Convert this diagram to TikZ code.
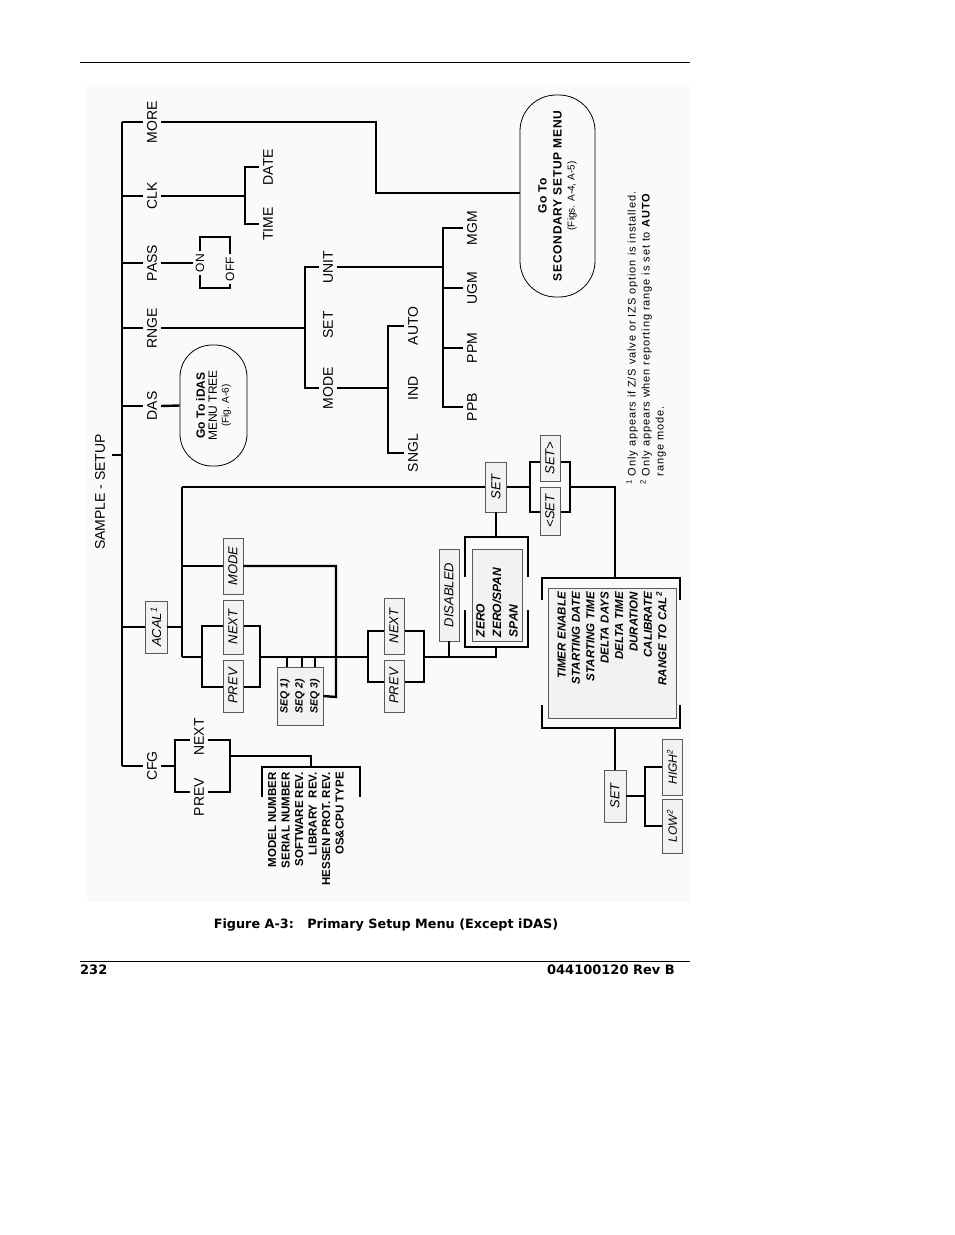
\documentclass[tikz,border=0pt]{standalone}
\usepackage{fontspec}
\setmainfont{Liberation Sans}
\newfontfamily\vfont{DejaVu Sans}
\newfontfamily\spfont[LetterSpace=6]{Liberation Sans}
\newfontfamily\ntfont[LetterSpace=8]{Liberation Sans}
\begin{document}
\begin{tikzpicture}[x=1pt,y=-1pt,
  thk/.style={line width=2.4pt},
  thn/.style={line width=1.3pt},
  lb/.style={rotate=90, inner sep=4pt, font=\fontsize{14}{16}\selectfont},
  sm/.style={rotate=90, inner sep=3pt, font=\fontsize{12}{13}\selectfont},
  bx/.style={rotate=90, draw=black!65, fill=black!5, line width=0.8pt, inner sep=0pt, font=\itshape\fontsize{13}{15}\selectfont},
  oval/.style={rotate=90, draw, line width=0.8pt, align=center, inner sep=0pt}]
\useasboundingbox (0,0) rectangle (954,1235);
\fill[white] (0,0) rectangle (954,1235);
\fill[black!2] (87,85) rectangle (690,902);
% page rules and captions
\draw[line width=1pt] (80,62) -- (690,62);
\draw[line width=1pt] (80,961) -- (690,961);
\node[font=\vfont\bfseries\fontsize{12.8}{14}\selectfont] (cap) at (386,925) {Figure A-3:\ \ \ Primary Setup Menu (Except iDAS)};
\node[anchor=west, inner sep=0, font=\vfont\bfseries\fontsize{13}{14}\selectfont] (pg) at (80,970) {232};
\node[anchor=east, inner sep=0, font=\vfont\bfseries\fontsize{13}{14}\selectfont] (rev) at (675,970) {044100120 Rev B};

% spine
\node[lb] (sample) at (100,492) {SAMPLE - SETUP};
\draw[thk] (122,122) -- (122,766);
\draw[thk] (112,455) -- (122,455);

% MORE
\node[lb] (more) at (152,122) {MORE};
\node[oval, minimum width=202, minimum height=75, rounded corners=36pt] (sec) at (557.5,196)
  {{\spfont\bfseries\fontsize{12}{14}\selectfont Go To}\\[3pt]{\spfont\bfseries\fontsize{12}{14}\selectfont SECONDARY SETUP MENU}\\[1pt]{\fontsize{10}{12}\selectfont (Figs. A-4, A-5)}};
\draw[thk] (122,122) -- (more.north);
\draw[thk] (more.south) -- (376,122) -- (376,193) -- (sec.north |- 0,193);

% CLK
\node[lb] (clk) at (152,196) {CLK};
\node[lb] (date) at (268,167) {DATE};
\node[lb] (time) at (268,224) {TIME};
\draw[thk] (122,196) -- (clk.north);
\draw[thk] (clk.south) -- (245,196);
\draw[thk] (date.north) -| (245,196) |- (time.north);

% PASS
\node[lb] (pass) at (152,263) {PASS};
\node[sm] (on) at (200,263) {ON};
\node[sm] (off) at (230,269) {OFF};
\draw[thk] (122,263) -- (pass.north);
\draw[thk] (pass.south) -- (on.north);
\draw[thk] (on.east) -- (200,237) -- (230,237) -- (off.east);
\draw[thk] (on.west) -- (200,288) -- (230,288) -- (off.west);

% RNGE
\node[lb] (rnge) at (152,328) {RNGE};
\node[lb] (unit) at (328,267) {UNIT};
\node[lb] (set) at (328,325) {SET};
\node[lb] (mode) at (328,388) {MODE};
\draw[thn] (122,328) -- (rnge.north);
\draw[thn] (rnge.south) -- (305,328);
\draw[thk] (unit.north) -| (305,328) |- (mode.north);
\node[lb] (mgm) at (472,228) {MGM};
\node[lb] (ugm) at (472,288) {UGM};
\node[lb] (ppm) at (472,348) {PPM};
\node[lb] (ppb) at (472,407) {PPB};
\draw[thn] (unit.south) -- (443,267);
\draw[thk] (mgm.north) -| (443,267) |- (ppb.north);
\draw[thk] (443,288) -- (ugm.north);
\draw[thk] (443,348) -- (ppm.north);
\node[lb] (auto) at (413,326) {AUTO};
\node[lb] (ind) at (413,388) {IND};
\node[lb] (sngl) at (413,453) {SNGL};
\draw[thk] (mode.south) -- (388,388);
\draw[thk] (auto.north) -| (388,388) |- (sngl.north);

% DAS
\node[lb] (das) at (152,406) {DAS};
\node[oval, minimum width=121, minimum height=67, rounded corners=32pt] (idas) at (213.5,405.5)
  {{\bfseries\fontsize{12}{13.5}\selectfont Go To iDAS}\\{\fontsize{12}{13.5}\selectfont MENU TREE}\\{\fontsize{10}{12}\selectfont (Fig. A-6)}};
\draw[thk] (122,406) -- (das.north);
\draw[thk] (das.south) -- (idas.north);

% ACAL
\node[bx, minimum width=52, minimum height=22] (acal) at (156,627) {ACAL\textsuperscript{1}};
\draw[thk] (122,627) -- (acal.north);
\draw[thk] (acal.south) -- (182,627);
\draw[thk] (182,487) -- (182,657);
\node[bx, minimum width=50, minimum height=21] (set1) at (496,487) {SET};
\draw[thk] (182,487) -- (set1.north);
\draw[thn] (set1.south) -- (530,487);
\draw[thk] (530,462) rectangle (570,512);
\node[bx, minimum width=46, minimum height=20] (setr) at (550,458) {SET>};
\node[bx, minimum width=48, minimum height=20] (setl) at (550,511) {<SET};
\draw[thk] (570,487) -| (615,578);
% timer list
\draw[thk] (542,600) -- (542,578) -- (680,578) -- (680,600);
\draw[thk] (542,705) -- (542,728) -- (680,728) -- (680,705);
\node[bx, minimum width=130, minimum height=128, text width=122, align=right,
  font=\bfseries\itshape\fontsize{11.5}{14.4}\selectfont] (timer) at (612,653)
  {TIMER ENABLE\\STARTING DATE\\STARTING TIME\\DELTA DAYS\\DELTA TIME\\DURATION\\CALIBRATE\\RANGE TO CAL\textsuperscript{2}};
\node[bx, minimum width=52, minimum height=22] (set2) at (615,796) {SET};
\draw[thk] (615,728) -- (set2.east);
\node[bx, minimum width=56, minimum height=20, font=\itshape\fontsize{12}{14}\selectfont] (high) at (672,767) {HIGH\textsuperscript{2}};
\node[bx, minimum width=54, minimum height=20, font=\itshape\fontsize{12}{14}\selectfont] (low) at (672,826) {LOW\textsuperscript{2}};
\draw[thk] (set2.south) -- (645,796);
\draw[thk] (high.north) -| (645,796) |- (low.north);

% ZERO / SPAN
\draw[thk] (set1.west) -- (496,537);
\draw[thk] (465,577) -- (465,537) -- (528,537) -- (528,577);
\draw[thk] (465,610) -- (465,647) -- (528,647) -- (528,610);
\node[bx, minimum width=92, minimum height=50, text width=84, align=left,
  font=\bfseries\itshape\fontsize{12}{16.5}\selectfont] (zero) at (497,595) {ZERO\\ZERO/SPAN\\SPAN};
\node[bx, minimum width=92, minimum height=20] (dis) at (449,595) {DISABLED};
\draw[thn] (dis.west) -- (449,657);

% PREV / NEXT brackets
\draw[thk] (202,626) rectangle (260,687);
\node[bx, minimum width=54, minimum height=20] (next1) at (233,627) {NEXT};
\node[bx, minimum width=52, minimum height=20] (prev1) at (233,686) {PREV};
\draw[thk] (182,657) -- (202,657);
\draw[thk] (260,657) -- (368,657);
\draw[thk] (368,631) rectangle (424,682);
\node[bx, minimum width=56, minimum height=20] (next2) at (394,626) {NEXT};
\node[bx, minimum width=52, minimum height=20] (prev2) at (394,686) {PREV};
\draw[thk] (424,657) -- (496,657) -- (496,647);

% MODE box and SEQ
\node[bx, minimum width=56, minimum height=20] (mode1) at (233,566) {MODE};
\draw[thn] (182,566) -- (mode1.north);
\node[bx, minimum width=58, minimum height=46, align=left,
  font=\bfseries\itshape\fontsize{10.5}{15}\selectfont] (seq) at (300,696) {SEQ 1)\\SEQ 2)\\SEQ 3)};
\draw[thk] (mode1.south) -- (336,566) -- (336,697) -- (seq.south);
\foreach \x in {287,302,315} \draw[thn] (\x,657) -- (seq.east -| \x,0);

% CFG
\node[lb] (cfg) at (152,766) {CFG};
\draw[thk] (122,766) -- (cfg.north);
\draw[thk] (cfg.south) -- (175,766);
\draw[thk] (175,740) rectangle (230,792);
\node[lb, fill=black!2] (cnext) at (199,737) {NEXT};
\node[lb, fill=black!2] (cprev) at (199,797) {PREV};
\draw[thn] (230,756) -| (311,767);
\draw[thk] (262,797) -- (262,767) -- (360,767) -- (360,797);
\node[rotate=90, anchor=east, align=right, inner sep=0pt,
  font=\bfseries\fontsize{11.5}{13.5}\selectfont] (cfglist) at (306,772)
  {MODEL NUMBER\\SERIAL NUMBER\\SOFTWARE REV.\\LIBRARY\ \ REV.\\HESSEN PROT. REV.\\OS\&CPU TYPE};

% footnotes
\node[rotate=90, anchor=west, align=left, inner sep=0pt, font=\ntfont\fontsize{11}{14}\selectfont] (notes) at (646,485)
  {\textsuperscript{1} Only appears if Z/S valve or IZS option is installed.\\
   \textsuperscript{2} Only appears when reporting range is set to \textbf{AUTO}\\
   \phantom{\textsuperscript{2} }range mode.};
\end{tikzpicture}
\end{document}
